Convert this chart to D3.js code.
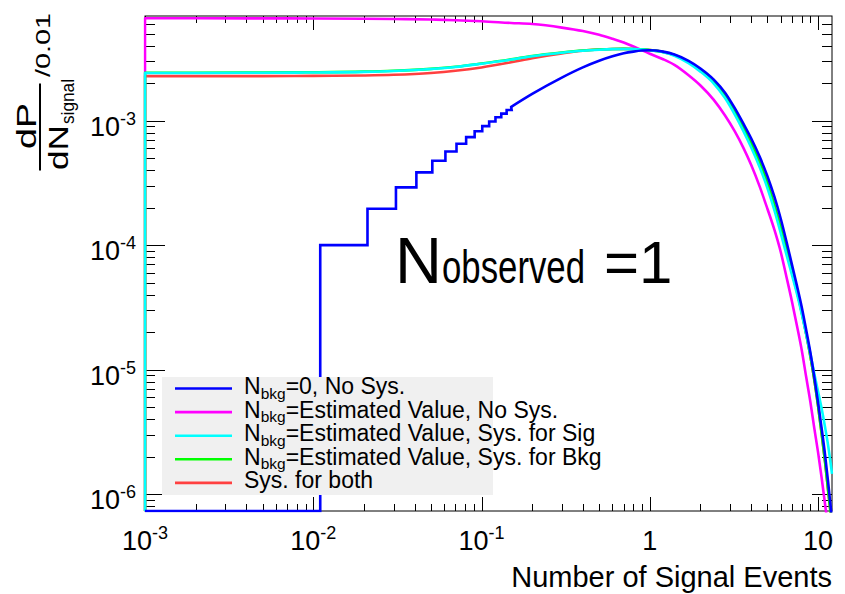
<!DOCTYPE html>
<html>
<head>
<meta charset="utf-8">
<script src="https://cdn.jsdelivr.net/npm/d3@7"></script>
<style>
  body { margin: 0; background: #fff; }
  svg { display: block; }
  text { font-family: "Liberation Sans", Arial, Helvetica, sans-serif; fill: #000; }
</style>
</head>
<body>
<svg id="chart" width="845" height="594"></svg>
<script>
// ---- data -------------------------------------------------------------
// signal grid (number of signal events) where the smooth curves are sampled
const signalGrid = [0.001, 0.002, 0.005, 0.01, 0.02, 0.03, 0.05, 0.07, 0.1, 0.15,
  0.2, 0.3, 0.4, 0.5, 0.6, 0.7, 0.8, 0.9, 1.0, 1.2, 1.4, 1.7, 2.0, 2.4, 2.8, 3.2,
  3.6, 4.0, 4.5, 5.0, 5.5, 6.0, 6.5, 7.0, 7.5, 8.0, 8.5, 9.0, 9.5, 10.0, 10.5, 11.0, 11.5, 12.1];

// N_bkg = 0, no systematics: fine-binned histogram at low signal ...
const blueBinWidth = 0.01;
const blueBinLow = [0.001, 0.011, 0.021, 0.031, 0.041, 0.051, 0.061, 0.071, 0.081,
  0.091, 0.101, 0.111, 0.121, 0.131, 0.141];
const blueBinValue = [0, 1.0e-4, 1.96e-4, 2.91e-4, 3.84e-4, 4.76e-4, 5.65e-4, 6.53e-4, 7.38e-4,
  8.23e-4, 9.05e-4, 9.85e-4, 1.065e-3, 1.14e-3, 1.22e-3];
// ... and its smooth continuation on the grid (null where the bins are used)
const blueValues = [null, null, null, null, null, null, null, null, null,
  1.29e-3, 1.64e-3, 2.22e-3, 2.68e-3, 3.03e-3, 3.29e-3, 3.48e-3, 3.59e-3, 3.66e-3, 3.68e-3,
  3.59e-3, 3.41e-3, 3.03e-3, 2.63e-3, 2.14e-3, 1.68e-3, 1.26e-3, 9.46e-4, 7.22e-4, 5.12e-4,
  3.58e-4, 2.45e-4, 1.63e-4, 1.06e-4, 6.94e-5, 4.68e-5, 3.17e-5, 2.08e-5, 1.37e-5, 8.7e-6,
  5.42e-6, 3.37e-6, 2.07e-6, 1.21e-6, 6.2e-7];

const magentaValues = [6.65e-3, 6.65e-3, 6.64e-3, 6.63e-3, 6.6e-3, 6.57e-3, 6.5e-3, 6.42e-3, 6.3e-3,
  6.1e-3, 5.98e-3, 5.6e-3, 5.25e-3, 4.9e-3, 4.55e-3, 4.25e-3, 3.95e-3, 3.68e-3, 3.45e-3,
  3.12e-3, 2.81e-3, 2.32e-3, 1.92e-3, 1.47e-3, 1.10e-3, 8.2e-4, 6.05e-4, 4.42e-4, 2.95e-4,
  1.96e-4, 1.33e-4, 8.8e-5, 5.5e-5, 3.51e-5, 2.23e-5, 1.43e-5, 8.7e-6, 5.49e-6, 3.37e-6,
  2.16e-6, 1.35e-6, 8.3e-7, 5.2e-7, 2.9e-7];

const cyanValues = [2.42e-3, 2.42e-3, 2.43e-3, 2.44e-3, 2.47e-3, 2.51e-3, 2.6e-3, 2.7e-3, 2.87e-3,
  3.1e-3, 3.3e-3, 3.52e-3, 3.65e-3, 3.72e-3, 3.76e-3, 3.77e-3, 3.76e-3, 3.73e-3, 3.68e-3,
  3.55e-3, 3.33e-3, 2.90e-3, 2.48e-3, 1.99e-3, 1.52e-3, 1.12e-3, 8.25e-4, 6.12e-4, 4.22e-4,
  2.88e-4, 1.91e-4, 1.25e-4, 8.3e-5, 5.73e-5, 4.04e-5, 2.80e-5, 1.93e-5, 1.34e-5, 9.25e-6,
  6.66e-6, 4.86e-6, 3.45e-6, 2.41e-6, 1.45e-6];

const greenValues = [2.43e-3, 2.43e-3, 2.44e-3, 2.45e-3, 2.48e-3, 2.52e-3, 2.61e-3, 2.71e-3, 2.88e-3,
  3.11e-3, 3.31e-3, 3.53e-3, 3.66e-3, 3.73e-3, 3.77e-3, 3.78e-3, 3.77e-3, 3.74e-3, 3.69e-3,
  3.57e-3, 3.37e-3, 2.96e-3, 2.55e-3, 2.06e-3, 1.59e-3, 1.17e-3, 8.71e-4, 6.57e-4, 4.57e-4,
  3.13e-4, 2.09e-4, 1.37e-4, 9.03e-5, 6.07e-5, 4.22e-5, 2.88e-5, 1.93e-5, 1.28e-5, 8.27e-6,
  5.11e-6, 3.06e-6, 1.82e-6, 1.04e-6, 5.6e-7];

const redValues = [2.28e-3, 2.28e-3, 2.28e-3, 2.29e-3, 2.31e-3, 2.34e-3, 2.42e-3, 2.52e-3, 2.68e-3,
  2.95e-3, 3.18e-3, 3.47e-3, 3.65e-3, 3.73e-3, 3.77e-3, 3.78e-3, 3.77e-3, 3.74e-3, 3.69e-3,
  3.57e-3, 3.37e-3, 2.96e-3, 2.55e-3, 2.06e-3, 1.59e-3, 1.17e-3, 8.71e-4, 6.57e-4, 4.57e-4,
  3.13e-4, 2.09e-4, 1.37e-4, 9.03e-5, 6.07e-5, 4.22e-5, 2.88e-5, 1.93e-5, 1.28e-5, 8.27e-6,
  5.11e-6, 3.06e-6, 1.82e-6, 1.04e-6, 5.6e-7];

const legendLabels = [
  "N_{bkg}=0, No Sys.",
  "N_{bkg}=Estimated Value, No Sys.",
  "N_{bkg}=Estimated Value, Sys. for Sig",
  "N_{bkg}=Estimated Value, Sys. for Bkg",
  "Sys. for both"
];
const legendColors = ["#0000ff", "#ff00ff", "#00ffff", "#00ff00", "#ff4040"];

const xTickValues = [1e-3, 1e-2, 1e-1, 1, 10];
const xTickLabels = [["10", "-3"], ["10", "-2"], ["10", "-1"], ["1", ""], ["10", ""]];
const yTickValues = [1e-3, 1e-4, 1e-5, 1e-6];
const yTickLabels = [["10", "-3"], ["10", "-4"], ["10", "-5"], ["10", "-6"]];

const xDomain = [1e-3, 12.1];
const yDomain = [7.3e-7, 6.94e-3];

// ---- layout -----------------------------------------------------------
const frame = { left: 145, right: 832, top: 16, bottom: 511 };
const svg = d3.select("#chart");

const x = d3.scaleLog().domain(xDomain).range([frame.left, frame.right]);
const y = d3.scaleLog().domain(yDomain).range([frame.bottom, frame.top]);

// ---- frame and ticks (drawn first, curves go on top) -------------------
const axes = svg.append("g").attr("stroke", "#000").attr("stroke-width", 1);
axes.append("rect")
  .attr("x", frame.left).attr("y", frame.top)
  .attr("width", frame.right - frame.left).attr("height", frame.bottom - frame.top)
  .attr("fill", "none");

function logTicks(domain) {
  const out = [];
  for (let k = -8; k <= 2; k++) {
    for (let m = 1; m <= 9; m++) {
      const v = m * Math.pow(10, k);
      if (v >= domain[0] * 0.9999 && v <= domain[1] * 1.0001) out.push({ v, major: m === 1 });
    }
  }
  return out;
}

logTicks(xDomain).forEach(t => {
  const px = Math.round(x(t.v)) + 0.5;
  const len = t.major ? 14 : 7;
  axes.append("line").attr("x1", px).attr("x2", px).attr("y1", frame.bottom).attr("y2", frame.bottom - len);
  axes.append("line").attr("x1", px).attr("x2", px).attr("y1", frame.top).attr("y2", frame.top + len);
});
logTicks(yDomain).forEach(t => {
  const py = Math.round(y(t.v)) + 0.5;
  const len = t.major ? 20 : 10;
  axes.append("line").attr("y1", py).attr("y2", py).attr("x1", frame.left).attr("x2", frame.left + len);
  axes.append("line").attr("y1", py).attr("y2", py).attr("x1", frame.right).attr("x2", frame.right - len);
});

// ---- curves -------------------------------------------------------------
svg.append("defs").append("clipPath").attr("id", "plotClip")
  .append("rect")
  .attr("x", frame.left - 1.5).attr("y", frame.top - 1.5)
  .attr("width", frame.right - frame.left + 3).attr("height", frame.bottom - frame.top + 3);

const plot = svg.append("g").attr("clip-path", "url(#plotClip)");

// smooth curve through the grid samples
const smooth = d3.line()
  .defined(d => d[1] != null)
  .x(d => x(d[0])).y(d => y(d[1]))
  .curve(d3.curveMonotoneX);

function seriesPath(values) {
  const pts = signalGrid.map((s, i) => [s, values[i]]);
  // histogram edge rising from the bottom at the first bin
  const rise = `M${x(xDomain[0])},${y(yDomain[0])}`;
  return rise + smooth(pts).replace(/^M/, "L");
}

const lineWidth = 2.6;

[["#ff00ff", magentaValues], ["#ff4040", redValues], ["#00ff00", greenValues], ["#00ffff", cyanValues]]
  .forEach(([col, vals]) => {
    plot.append("path")
      .attr("d", seriesPath(vals))
      .attr("fill", "none").attr("stroke", col)
      .attr("stroke-width", lineWidth).attr("stroke-linejoin", "round");
  });

// blue: step histogram for the first bins, then the smooth part
const firstSmooth = blueValues.findIndex(v => v != null);
const stepPts = [[x(xDomain[0]), y(yDomain[0])]];
blueBinLow.forEach((lo, i) => {
  const v = blueBinValue[i] > 0 ? y(blueBinValue[i]) : y(yDomain[0]);
  stepPts.push([x(Math.max(lo, xDomain[0])), v]);
  stepPts.push([x(lo + blueBinWidth), v]);
});
stepPts.push([x(signalGrid[firstSmooth]), y(blueValues[firstSmooth])]);
plot.append("path")
  .attr("d", d3.line()(stepPts))
  .attr("fill", "none").attr("stroke", "#0000ff")
  .attr("stroke-width", lineWidth).attr("stroke-linejoin", "miter");
plot.append("path")
  .attr("d", smooth(signalGrid.map((s, i) => [s, blueValues[i]])))
  .attr("fill", "none").attr("stroke", "#0000ff")
  .attr("stroke-width", lineWidth).attr("stroke-linecap", "round");

// ---- tick labels ----------------------------------------------------------
xTickValues.forEach((v, i) => {
  const t = svg.append("text").attr("x", x(v)).attr("y", 550)
    .attr("text-anchor", "middle").attr("font-size", 27);
  t.append("tspan").text(xTickLabels[i][0]);
  if (xTickLabels[i][1]) t.append("tspan").attr("dy", -11).attr("font-size", 18).text(xTickLabels[i][1]);
});
yTickValues.forEach((v, i) => {
  const t = svg.append("text").attr("x", 136).attr("y", y(v) + 15)
    .attr("text-anchor", "end").attr("font-size", 27);
  t.append("tspan").text(yTickLabels[i][0]);
  t.append("tspan").attr("dy", -11).attr("font-size", 18).text(yTickLabels[i][1]);
});

// ---- axis titles ----------------------------------------------------------
svg.append("text").attr("x", frame.right).attr("y", 587)
  .attr("text-anchor", "end").attr("font-size", 29).text("Number of Signal Events");

const yTitle = svg.append("g").attr("transform", "translate(40,127) rotate(-90)");
yTitle.append("line").attr("x1", -43.5).attr("x2", 43.5).attr("y1", 0).attr("y2", 0)
  .attr("stroke", "#000").attr("stroke-width", 2);
yTitle.append("text").attr("x", -22).attr("y", -4).attr("font-size", 28)
  .attr("textLength", 46).attr("lengthAdjust", "spacingAndGlyphs").text("dP");
yTitle.append("text").attr("x", -43).attr("y", 28).attr("font-size", 28)
  .attr("textLength", 45).attr("lengthAdjust", "spacingAndGlyphs").text("dN");
yTitle.append("text").attr("x", 3).attr("y", 34).attr("font-size", 19)
  .attr("textLength", 45).attr("lengthAdjust", "spacingAndGlyphs").text("signal");
yTitle.append("text").attr("x", 50).attr("y", 10).attr("font-size", 21)
  .attr("textLength", 64).attr("lengthAdjust", "spacingAndGlyphs").text("/0.01");

// ---- legend -----------------------------------------------------------
const legend = svg.append("g");
legend.append("rect").attr("x", 162).attr("y", 377).attr("width", 331).attr("height", 118)
  .attr("fill", "#f0f0f0");
legendLabels.forEach((lab, i) => {
  const cy = 388.5 + i * 23.6;
  legend.append("line").attr("x1", 175).attr("x2", 232).attr("y1", cy).attr("y2", cy)
    .attr("stroke", legendColors[i]).attr("stroke-width", lineWidth);
  const t = legend.append("text").attr("x", 244).attr("y", cy + 5.5).attr("font-size", 23);
  const m = lab.match(/^(.*?)_\{(.*?)\}(.*)$/);
  if (m) {
    t.append("tspan").text(m[1]);
    t.append("tspan").attr("dy", 4.5).attr("font-size", 15.5).text(m[2]);
    t.append("tspan").attr("dy", -4.5).text(m[3]);
  } else {
    t.text(lab);
  }
});

// ---- annotation -------------------------------------------------------
const note = svg.append("g");
note.append("text").attr("x", 395).attr("y", 283).attr("font-size", 65).text("N");
note.append("text").attr("transform", "translate(442,283) scale(0.74,1)")
  .attr("font-size", 47).text("observed");
note.append("text").attr("x", 604).attr("y", 283).attr("font-size", 60).text("=1");
</script>
</body>
</html>
